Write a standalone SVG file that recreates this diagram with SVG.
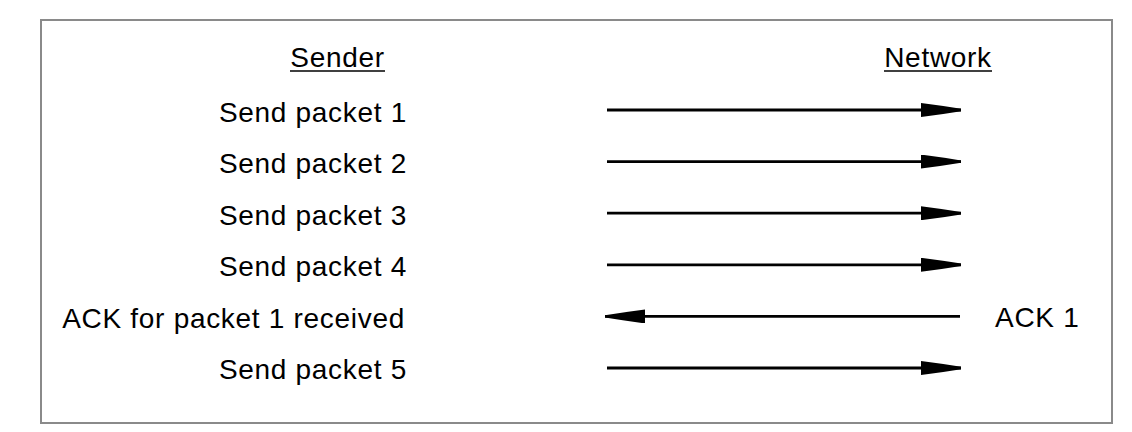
<svg xmlns="http://www.w3.org/2000/svg" width="1132" height="432" viewBox="0 0 1132 432">
<style>
text{font-family:"Liberation Sans",Arial,sans-serif;font-size:28px;fill:#000;letter-spacing:0.7px}
.l{text-anchor:end}
.h{text-anchor:middle}
.c{stroke:#000;stroke-width:2.8;fill:none}
</style>
<defs>
<marker id="ah" markerUnits="userSpaceOnUse" viewBox="0 0 40 14" refX="40" refY="7" markerWidth="40" markerHeight="14" orient="auto">
<path d="M0,0 Q20,2.5 40,5.8 L40,8.2 Q20,11.5 0,14 Z" fill="#000"/>
</marker>
</defs>
<rect x="41" y="20" width="1071" height="403" fill="#fff" stroke="#8a8a8a" stroke-width="2"/>
<g id="sender-header">
<text class="h" x="337.5" y="67">Sender</text>
<line x1="290" y1="71" x2="385" y2="71" stroke="#000" stroke-width="1.5"/>
</g>
<g id="network-header">
<text class="h" x="938" y="67">Network</text>
<line x1="884" y1="71" x2="992" y2="71" stroke="#000" stroke-width="1.5"/>
</g>
<g id="s1"><text class="l" x="407" y="121.5">Send packet 1</text></g>
<g id="s2"><text class="l" x="407" y="173">Send packet 2</text></g>
<g id="s3"><text class="l" x="407" y="224.5">Send packet 3</text></g>
<g id="s4"><text class="l" x="407" y="276">Send packet 4</text></g>
<g id="s5"><text class="l" x="405" y="327.5">ACK for packet 1 received</text></g>
<g id="s6"><text class="l" x="407" y="379">Send packet 5</text></g>
<g id="n5"><text x="995" y="327">ACK 1</text></g>
<g id="connectors">
<line class="c" x1="607" y1="110" x2="961" y2="110" marker-end="url(#ah)"/>
<line class="c" x1="607" y1="161.6" x2="961" y2="161.6" marker-end="url(#ah)"/>
<line class="c" x1="607" y1="213.2" x2="961" y2="213.2" marker-end="url(#ah)"/>
<line class="c" x1="607" y1="264.8" x2="961" y2="264.8" marker-end="url(#ah)"/>
<line class="c" x1="960" y1="316.4" x2="605" y2="316.4" marker-end="url(#ah)"/>
<line class="c" x1="607" y1="368" x2="961" y2="368" marker-end="url(#ah)"/>
</g>
</svg>
